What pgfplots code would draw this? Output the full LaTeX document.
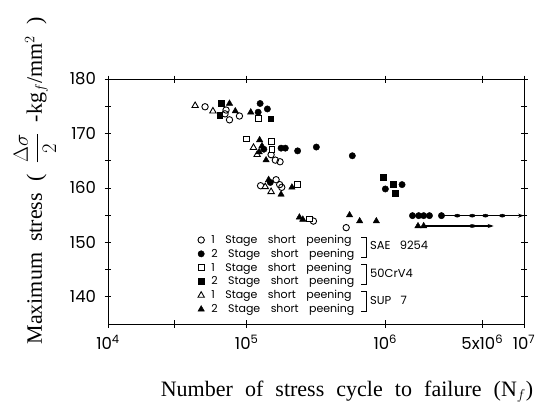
\documentclass[border=0pt]{standalone}
\usepackage{pgfplots}
\pgfplotsset{compat=1.18}
\usepackage{fontspec}
\setmainfont{Liberation Serif}
\newfontfamily\pop{Poppins}
\usetikzlibrary{arrows.meta}
\newcommand\tickfont{\pop\fontsize{16.5bp}{16.5bp}\selectfont}
\newcommand\legfont{\pop\fontsize{11bp}{11bp}\selectfont\spaceskip=0.95em\relax}
\newcommand\matfont{\pop\fontsize{11.5bp}{12bp}\selectfont\spaceskip=0.8em\relax}
\newcommand\ylabfont{\fontsize{22bp}{26bp}\selectfont\spaceskip=0.5em\relax}
\newcommand\xlabfont{\fontsize{22bp}{26bp}\selectfont\spaceskip=0.55em\relax}
\begin{document}
\begin{tikzpicture}
\path[use as bounding box] (-108bp,-79bp) rectangle (430bp,324bp);
\begin{axis}[
  at={(0,0)}, anchor=south west,
  scale only axis, width=416bp, height=245bp,
  xmode=log, xmin=1e4, xmax=1e7, ymin=135, ymax=180,
  xtick={1e4,3e4,1e5,1e6,5e6,1e7},
  xticklabels={10\textsuperscript{4},,10\textsuperscript{5},10\textsuperscript{6},5x10\textsuperscript{6},10\textsuperscript{7}},
  xminorticks=false,
  ytick={140,150,160,170,180},
  minor ytick={145,155,165,175},
  tick align=center, major tick length=7bp, minor tick length=6bp,
  tick style={black, line width=0.6bp},
  axis line style={line width=0.8bp},
  tick label style={font=\tickfont},
  xticklabel style={yshift=-4bp},
  yticklabel style={xshift=-5bp},
  /pgf/number format/assume math mode=true,
  legend cell align=left,
  legend style={draw=none, fill=none, at={(0.211,0.376)}, anchor=north west,
    font=\legfont, row sep=0bp, inner sep=1bp},
  legend image code/.code={\path (0bp,0bp) (12bp,0bp); \draw[#1] plot coordinates {(4bp,0bp)};},
]
% open circle: 1 stage, SAE 9254
\addplot[only marks, mark=o, mark size=3.2bp, mark options={fill=white, line width=0.9bp}] coordinates {
(5.01e4,174.9)(7.10e4,174.3)(7.52e4,172.5)(8.87e4,173.2)(6.98e4,173.6)
(1.50e5,166.1)(1.61e5,165.1)(1.74e5,164.8)
(1.26e5,160.4)(1.63e5,161.5)(1.73e5,160.6)(1.79e5,160.1)
(3.03e5,153.9)(5.22e5,152.7)};
\addlegendentry{1 Stage short peening}
% filled circle: 2 stage, SAE 9254
\addplot[only marks, mark=*, mark size=3.2bp] coordinates {
(1.25e5,175.5)(1.21e5,173.9)(1.41e5,174.5)
(1.33e5,167.1)(1.77e5,167.3)(1.90e5,167.3)(2.33e5,166.8)(3.18e5,167.5)(5.78e5,165.9)
(1.48e5,161.0)(1.32e6,160.6)(1.00e6,159.8)
(1.57e6,154.9)(1.74e6,154.9)(1.89e6,154.9)(2.08e6,154.9)(2.54e6,154.9)};
\addlegendentry{2 Stage short peening}
% open square: 1 stage, 50CrV4
\addplot[only marks, mark=square*, mark size=2.9bp, mark options={fill=white, line width=0.9bp}] coordinates {
(1.21e5,172.7)(9.91e4,169.0)(1.50e5,168.5)(1.52e5,167.0)(2.33e5,160.6)(2.84e5,154.3)};
\addlegendentry{1 Stage short peening}
% filled square: 2 stage, 50CrV4
\addplot[only marks, mark=square*, mark size=2.9bp] coordinates {
(6.52e4,175.5)(6.40e4,173.3)(1.49e5,172.7)(9.62e5,162.0)(1.14e6,160.7)(1.18e6,159.0)};
\addlegendentry{2 Stage short peening}
% open triangle: 1 stage, SUP 7
\addplot[only marks, mark=triangle*, mark size=3.7bp, mark options={fill=white, line width=0.9bp}] coordinates {
(4.25e4,175.1)(5.71e4,174.1)(1.12e5,167.4)(1.19e5,166.1)(1.36e5,160.2)(1.50e5,159.3)};
\addlegendentry{1 Stage short peening}
% filled triangle: 2 stage, SUP 7
\addplot[only marks, mark=triangle*, mark size=3.7bp] coordinates {
(7.52e4,175.5)(8.28e4,174.1)(1.07e5,173.9)(1.24e5,168.8)(1.29e5,167.7)(1.38e5,165.1)(1.23e5,166.6)
(1.44e5,161.5)(1.77e5,158.8)(2.12e5,160.1)
(2.40e5,154.6)(2.54e5,154.2)(5.52e5,155.0)(6.53e5,153.9)(8.61e5,153.9)
(1.72e6,153.0)(1.89e6,153.0)};
\addlegendentry{2 Stage short peening}
% run-outs
\addplot[forget plot, line width=1.1bp, -{Stealth[length=6bp,width=4bp]}] coordinates {(2.54e6,154.9)(1e7,154.9)};
\addplot[forget plot, only marks, mark=*, mark size=1.9bp, mark options={xscale=1.5,yscale=0.8}] coordinates {
(3.30e6,154.9)(4.23e6,154.9)(5.27e6,154.9)(6.97e6,154.9)};
\addplot[forget plot, line width=1.1bp, -{Stealth[length=6bp,width=4bp]}] coordinates {(1.89e6,153.0)(6.05e6,153.0)};
\addplot[forget plot, only marks, mark=*, mark size=1.9bp, mark options={xscale=1.5,yscale=0.8}] coordinates {
(4.23e6,153.0)};
\end{axis}
% brackets and material names
\draw[line width=0.6bp] (253bp,87bp) -- (258bp,87bp) -- (258bp,67bp) -- (253bp,67bp);
\draw[line width=0.6bp] (253bp,60bp) -- (258bp,60bp) -- (258bp,40bp) -- (253bp,40bp);
\draw[line width=0.6bp] (253bp,33bp) -- (258bp,33bp) -- (258bp,13bp) -- (253bp,13bp);
\node[anchor=west, inner sep=0pt, font=\matfont] at (262bp,79bp) {SAE 9254};
\node[anchor=west, inner sep=0pt, font=\matfont] at (262bp,51bp) {50CrV4};
\node[anchor=west, inner sep=0pt, font=\matfont] at (262bp,24bp) {SUP 7};
% axis titles
\node[rotate=90, font=\ylabfont] at (-73bp,143bp)
  {Maximum stress ( $\displaystyle\frac{\Delta\sigma}{2}$ -kg$_f$/mm$^2$ )};
\node[font=\xlabfont] at (239bp,-68bp)
  {Number of stress cycle to failure (N$_f$)};
\end{tikzpicture}
\end{document}
